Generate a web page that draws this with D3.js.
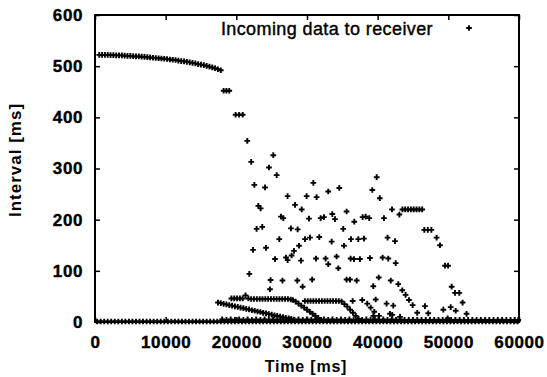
<!DOCTYPE html>
<html>
<head>
<meta charset="utf-8">
<script src="https://cdn.jsdelivr.net/npm/d3@7"></script>
<style>
  body { margin: 0; background: #fff; }
  svg { display: block; }
  text { font-family: "Liberation Sans", Arial, Helvetica, sans-serif; fill: #000; }
  .axis text { font-size: 17px; font-weight: bold; }
  .axis path { display: none; }
  .axis line { stroke: #000; stroke-width: 1.5; }
</style>
</head>
<body>
<svg width="547" height="377"></svg>
<script>
// time [ms] / interval [ms] pairs
var firstPhase = [
  [600,522],[1000,522],[1400,522],[1800,522],[2200,521.5],[2600,521.5],[3000,521],[3400,521],
  [3800,521],[4200,520.5],[4600,520],[5000,520],[5400,519.5],[5800,519],[6200,519],[6600,518.5],
  [7000,518],[7400,517.5],[7800,517],[8200,516.5],[8600,516],[9000,515.5],[9400,515],[9800,514.5],
  [10200,514],[10600,513],[11000,512.5],[11400,512],[11800,511],[12200,510],[12600,509.5],[13000,508.5],
  [13400,507.5],[13800,506.5],[14200,505.5],[14600,504],[15000,503],[15400,502],[15800,500.5],[16200,499],
  [16600,497.5],[17000,496],[17400,494],[17800,492]
]

var steps = [[18200,452],[18600,452],[19000,452],[19900,405],[20400,405],[20900,405]]

var scatter = [
  [21550,354],[22100,313],[25230,326],[24620,302],[25710,287],[22550,268],[24060,263],
  [30900,272],[27250,246],[29950,246],[31360,244],[33010,255],[34570,262],[39860,283],[39240,258],[40300,242],
  [23110,227],[23440,222],[28300,229],[29250,220],[26320,206],[26650,203],[30280,202],[31930,203],[32400,205],
  [33580,211],[33960,201],[35600,216],[36690,196],[37870,205],[38300,206],[38810,203],[40890,203],[42030,220],[43070,210],
  [43500,220],[43900,220],[44300,220],[44700,220],[45100,220],[45500,220],[45900,220],[46300,220],
  [46600,180],[47100,180],[47600,180],[48340,165],[48820,150],
  [22870,182],[23670,186],[27730,183],[28680,181],[35130,182],
  [22360,141],[24200,145],[26080,162],[29720,162],[30420,165],[31740,166],[33490,157],[35230,149],
  [36220,162],[37260,162],[38060,163],[41400,165],[42450,158],
  [28870,149],[28160,139],[27820,130],[27030,126],[27260,121],[25470,123],[29150,120],[31270,124],[32630,124],
  [33010,113],[34190,128],[34430,105],[36170,124],[36650,123],[37490,123],[38910,125],[40700,126],[41500,124],
  [42550,115],[49530,110],[49960,110],
  [21840,94],[24840,82],[26530,81],[28630,81],[30730,83],[29380,69],[24760,64],[35600,83],[36080,83],[37030,81],
  [40150,87],[39380,70],[41850,81],[42920,74],
  [43480,62],[43950,53],[44430,43],[44950,33],[45600,18],
  [50470,69],[50940,57],[51550,57],[52020,38],[52580,16],[50330,29],[51040,22],[49290,24],[46700,31],[47160,17],
  [36460,41],[37820,43],[38530,36],[39010,28],[39520,20],[39720,44],[41260,36],[42210,32],[40190,12],
  [42070,14],[43160,10],[21300,52],[49900,7],[39380,12],[41740,16]
]

var plateau1 = [
  [19300,46],[19700,46],[20100,46],[20500,46],[20900,46],[21700,46],[22100,45],[22500,45],[22900,45],
  [23300,45],[23700,45],[24100,45],[24500,45],[24900,45],[25300,45],[25700,45],[26100,45],[26500,45],
  [26900,45],[27300,45],[27700,44],[28000,43]
]

var plateau2 = [
  [29700,41],[30100,41],[30500,41],[30900,41],[31300,41],[31700,41],[32100,41],[32500,41],[32900,41],
  [33300,41],[33700,41],[34100,41],[34500,41],[34900,40]
]

var decline1 = [
  [17400,38],[17800,37],[18200,35.5],[18600,34.5],[19000,33],[19400,32],[19800,30.5],[20200,29.5],
  [20600,28],[21000,27],[21400,25.5],[21800,24.5],[22200,23],[22600,22],[23000,20.5],[23400,19.5],
  [23800,18],[24200,17],[24600,15.5],[25000,14.5],[25400,13],[25800,12],[26200,10.5],[26600,9.5],
  [27000,8],[27400,7],[27800,5.5],[28200,4.5]
]

var decline2 = [
  [28400,40],[28800,36],[29200,32],[29600,28],[30000,24],[30400,20],[30800,16],[31200,12],[31600,8],[32000,4]
]

var decline3 = [
  [35300,35],[35700,30],[36100,24],[36500,18],[36900,12],[37300,6]
]

var floorLow = [
  [300,1],[800,1],[1300,1],[1800,1],[2300,1],[2800,1],[3300,1],[3800,1],[4300,1],[4800,1],[5300,1],[5800,1],
  [6300,1],[6800,1],[7300,1],[7800,1],[8300,1],[8800,1],[9300,1],[9800,1],[10300,1],[10800,1],[11300,1],[11800,1],
  [12300,1],[12800,1],[13300,1],[13800,1],[14300,1],[14800,1],[15300,1],[15800,1],[16300,1],[16800,1],[17300,1],[17800,1],
  [18300,1],[18800,1],[19300,1],[19800,1],[20300,1],[20800,1],[21300,1],[21800,1],[22300,1],[22800,1],[23300,1],[23800,1],
  [24300,1],[24800,1],[25300,1],[25800,1],[26300,1],[26800,1],[27300,1],[27800,1],[28300,1],[28800,1],[29300,1],[29800,1],
  [30300,1],[30800,1],[31300,1],[31800,1],[32300,1],[32800,1],[33300,1],[33800,1],[34300,1],[34800,1],[35300,1],[35800,1],
  [36300,1],[36800,1],[37300,1],[37800,1],[38300,1],[38800,1],[39300,1],[39800,1],[40300,1],[40800,1],[41300,1],[41800,1],
  [42300,1],[42800,1],[43300,1],[43800,1],[44300,1],[44800,1],[45300,1],[45800,1],[46300,1],[46800,1],[47300,1],[47800,1],
  [48300,1],[48800,1],[49300,1],[49800,1],[50300,1],[50800,1],[51300,1],[51800,1],[52300,1],[52800,1],[53300,1],[53800,1],
  [54300,1],[54800,1],[55300,1],[55800,1],[56300,1],[56800,1],[57300,1],[57800,1],[58300,1],[58800,1],[59300,1],[59800,1]
]

var floorHigh = [
  [18000,5],[18600,4],[19200,5],[19800,4],[20400,5],[21000,4],[21600,5],[22200,4],[22800,5],[23400,4],[24000,5],
  [24600,4],[25200,5],[25800,4],[26400,5],[27000,4],[27600,5],[28200,4],[28800,5],[29400,4],[30000,5],[30600,4],
  [31200,5],[31800,4],[32400,5],[33000,4],[33600,5],[34200,4],[34800,5],[35400,4],[36000,5],[36600,4],[37200,5],
  [37800,4],[38400,5],[39000,4],[39600,5],[40200,4],[40800,5],[41400,4],[42000,5],[42600,4],[43200,5],[43800,4],
  [44400,4],[45000,4],[45600,4],[46200,4],[46800,4],[47400,4],[48000,4],[48600,4],[49200,4],[49800,4],[50400,4],
  [51000,4],[51600,4],[52200,4],[52800,4],[53400,4],[54000,4],[54600,4],[55200,4],[55800,4],[56400,4],[57000,4],
  [57600,4],[58200,4],[58800,4],[59400,4],[59900,4]
]

var xTicks = [0, 10000, 20000, 30000, 40000, 50000, 60000]
var yTicks = [0, 100, 200, 300, 400, 500, 600]

var allPoints = [].concat(floorLow, floorHigh, firstPhase, steps, scatter,
                          plateau1, plateau2, decline1, decline2, decline3)

var svg = d3.select('svg')
var plotL = 95, plotT = 15, plotR = 519, plotB = 322

var x_scale = d3.scaleLinear().domain([0, 60000]).range([plotL, plotR])
var y_scale = d3.scaleLinear().domain([0, 600]).range([plotB, plotT])

// gnuplot style: ticks point inward, mirrored on top / right
svg.append('g').attr('class', 'axis')
    .attr('transform', 'translate(0,' + plotB + ')')
    .call(d3.axisBottom(x_scale).tickValues(xTicks).tickSize(-5).tickPadding(14).tickFormat(d3.format('d')))
svg.append('g').attr('class', 'axis')
    .attr('transform', 'translate(0,' + plotT + ')')
    .call(d3.axisTop(x_scale).tickValues(xTicks).tickSize(-5).tickFormat(''))
svg.append('g').attr('class', 'axis')
    .attr('transform', 'translate(' + plotL + ',0)')
    .call(d3.axisLeft(y_scale).tickValues(yTicks).tickSize(-5).tickPadding(12))
svg.append('g').attr('class', 'axis')
    .attr('transform', 'translate(' + plotR + ',0)')
    .call(d3.axisRight(y_scale).tickValues(yTicks).tickSize(-5).tickFormat(''))

svg.selectAll('.axis text')
    .attr('letter-spacing', '0.6px')
    .style('stroke', '#000').style('stroke-width', 0.4)

svg.append('rect')
    .attr('x', plotL).attr('y', plotT)
    .attr('width', plotR - plotL).attr('height', plotB - plotT)
    .attr('fill', 'none').attr('stroke', '#000').attr('stroke-width', 2)

var mark = d3.symbol().type(d3.symbolCross).size(18)

svg.append('g').selectAll('path')
    .data(allPoints)
    .enter()
    .append('path')
    .attr('d', mark)
    .attr('transform', function (d) { return 'translate(' + x_scale(d[0]) + ',' + y_scale(d[1]) + ')' })
    .attr('fill', '#000')

// legend
svg.append('text')
    .attr('x', 433).attr('y', 35)
    .attr('text-anchor', 'end')
    .attr('letter-spacing', '0.4px')
    .style('font-size', '18px')
    .style('stroke', '#000').style('stroke-width', 0.4)
    .text('Incoming data to receiver')
svg.append('path')
    .attr('d', mark)
    .attr('transform', 'translate(469,28)')
    .attr('fill', '#000')

// axis titles
svg.append('text')
    .attr('x', 306).attr('y', 372)
    .attr('text-anchor', 'middle')
    .attr('letter-spacing', '0.8px')
    .style('font-size', '16px').style('font-weight', 'bold')
    .text('Time [ms]')
svg.append('text')
    .attr('transform', 'translate(21,160) rotate(-90)')
    .attr('text-anchor', 'middle')
    .attr('letter-spacing', '1px')
    .style('font-size', '17px').style('font-weight', 'bold')
    .text('Interval [ms]')
</script>
</body>
</html>
